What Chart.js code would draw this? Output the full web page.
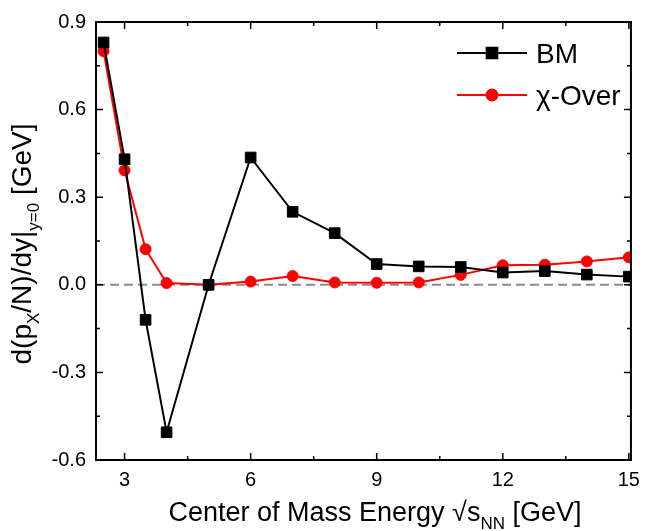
<!DOCTYPE html>
<html lang="en">
<head>
  <meta charset="UTF-8" />
  <title>Directed flow slope vs. collision energy</title>
  <script src="https://cdn.jsdelivr.net/npm/chart.js"></script>
  <style>
    body {
      margin: 0;
      background: #fff;
    }
    #wrap {
      width: 648px;
      height: 531px;
    }
  </style>
</head>
<body>
  <div id="wrap"><canvas id="flowChart" width="648" height="531"></canvas></div>

  <script>
    // sqrt(s_NN) in GeV
    const energies = [2.5, 3, 3.5, 4, 5, 6, 7, 8, 9, 10, 11, 12, 13, 14, 15];
    // d(px/N)/dy at y=0, GeV
    const bmValues = [0.83, 0.43, -0.12, -0.505, 0.0, 0.436, 0.25, 0.177, 0.071, 0.063, 0.061, 0.042, 0.047, 0.035, 0.028];
    const chiOverValues = [0.80, 0.392, 0.122, 0.006, 0.0, 0.011, 0.030, 0.008, 0.007, 0.008, 0.034, 0.067, 0.069, 0.080, 0.094];

    const xTicks = [3, 6, 9, 12, 15];
    const xMinorTicks = [4.5, 7.5, 10.5, 13.5];
    const yTicks = [-0.6, -0.3, 0.0, 0.3, 0.6, 0.9];
    const yMinorTicks = [-0.45, -0.15, 0.15, 0.45, 0.75];

    const FONT = '"Liberation Sans", Arial, sans-serif';

    function toPoints(ys) {
      return energies.map((x, i) => ({ x: x, y: ys[i] }));
    }

    // draw a run of text pieces, some of them as subscripts
    function richText(ctx, parts, size, x, y, align) {
      const subSize = Math.round(size * 0.62);
      const widths = parts.map(p => {
        ctx.font = (p.sub ? subSize : size) + 'px ' + FONT;
        return ctx.measureText(p.t).width;
      });
      const total = widths.reduce((a, b) => a + b, 0);
      let cx = align === 'center' ? x - total / 2 : x;
      parts.forEach((p, i) => {
        ctx.font = (p.sub ? subSize : size) + 'px ' + FONT;
        ctx.fillText(p.t, cx, p.sub ? y + size * 0.28 : y);
        cx += widths[i];
      });
    }

    // zero line, drawn under the series
    const zeroLine = {
      id: 'zeroLine',
      beforeDatasetsDraw(chart) {
        const { ctx, chartArea, scales } = chart;
        const y0 = scales.y.getPixelForValue(0);
        ctx.save();
        ctx.strokeStyle = '#8c8c8c';
        ctx.lineWidth = 2;
        ctx.setLineDash([9, 5]);
        ctx.beginPath();
        ctx.moveTo(chartArea.left, y0);
        ctx.lineTo(chartArea.right, y0);
        ctx.stroke();
        ctx.restore();
      }
    };

    // frame with inward ticks on all four sides, axis titles, legend
    const frame = {
      id: 'frame',
      afterDraw(chart) {
        const { ctx, chartArea: a, scales } = chart;
        ctx.save();
        ctx.strokeStyle = '#000';
        ctx.lineWidth = 2;
        ctx.strokeRect(a.left, a.top, a.right - a.left, a.bottom - a.top);

        ctx.lineWidth = 1.5;
        ctx.beginPath();
        const tickX = (vals, len) => vals.forEach(v => {
          const px = scales.x.getPixelForValue(v);
          ctx.moveTo(px, a.bottom); ctx.lineTo(px, a.bottom - len);
          ctx.moveTo(px, a.top); ctx.lineTo(px, a.top + len);
        });
        const tickY = (vals, len) => vals.forEach(v => {
          const py = scales.y.getPixelForValue(v);
          ctx.moveTo(a.left, py); ctx.lineTo(a.left + len, py);
          ctx.moveTo(a.right, py); ctx.lineTo(a.right - len, py);
        });
        tickX(xTicks, 7); tickX(xMinorTicks, 4);
        tickY(yTicks, 7); tickY(yMinorTicks, 4);
        ctx.stroke();

        ctx.fillStyle = '#000';
        ctx.textBaseline = 'alphabetic';
        ctx.textAlign = 'left';
        richText(ctx, [
          { t: 'Center of Mass Energy \u221As' },
          { t: 'NN', sub: true },
          { t: ' [GeV]' }
        ], 27, 375, 521, 'center');

        ctx.save();
        ctx.translate(31, 244);
        ctx.rotate(-Math.PI / 2);
        richText(ctx, [
          { t: 'd(p' },
          { t: 'X', sub: true },
          { t: '/N)/dy|' },
          { t: 'y=0', sub: true },
          { t: ' [GeV]' }
        ], 28, 0, 0, 'center');
        ctx.restore();

        // legend
        const rows = [
          { label: 'BM', color: '#000', style: 'rect', r: 7.5, y: 53 },
          { label: '\u03C7-Over', color: '#ff0000', style: 'circle', r: 5.5, y: 95 }
        ];
        rows.forEach(row => {
          ctx.strokeStyle = row.color;
          ctx.lineWidth = 2;
          ctx.beginPath();
          ctx.moveTo(457, row.y);
          ctx.lineTo(527, row.y);
          ctx.stroke();
          ctx.fillStyle = row.color;
          Chart.helpers.drawPoint(ctx, { pointStyle: row.style, radius: row.r, borderWidth: 1 }, 492, row.y);
          ctx.fill();
          ctx.fillStyle = '#000';
          ctx.font = '28px ' + FONT;
          ctx.fillText(row.label, 536, row.y + 10);
        });
        ctx.restore();
      }
    };

    const tickFont = { family: FONT, size: 20 };

    new Chart(document.getElementById('flowChart'), {
      type: 'line',
      data: {
        datasets: [
          {
            label: 'BM',
            data: toPoints(bmValues),
            borderColor: '#000',
            backgroundColor: '#000',
            borderWidth: 2,
            pointStyle: 'rect',
            pointRadius: 7.5,
            pointBorderWidth: 1,
            tension: 0
          },
          {
            label: '\u03C7-Over',
            data: toPoints(chiOverValues),
            borderColor: '#ff0000',
            backgroundColor: '#ff0000',
            borderWidth: 2,
            pointStyle: 'circle',
            pointRadius: 5.5,
            pointBorderWidth: 1,
            tension: 0
          }
        ]
      },
      options: {
        responsive: false,
        devicePixelRatio: 1,
        animation: false,
        layout: { padding: { top: 22, right: 9, left: 0, bottom: 0 } },
        plugins: {
          legend: { display: false },
          tooltip: { enabled: false }
        },
        scales: {
          x: {
            type: 'linear',
            min: 2.32,
            max: 15.05,
            afterBuildTicks: s => { s.ticks = xTicks.map(v => ({ value: v })); },
            afterFit: s => { s.height = 71; },
            grid: { display: false, drawTicks: false },
            border: { display: false },
            ticks: { font: tickFont, color: '#000', padding: 8, maxRotation: 0 }
          },
          y: {
            type: 'linear',
            min: -0.6,
            max: 0.9,
            afterBuildTicks: s => { s.ticks = yTicks.map(v => ({ value: v })); },
            afterFit: s => { s.width = 96; },
            grid: { display: false, drawTicks: false },
            border: { display: false },
            ticks: {
              font: tickFont,
              color: '#000',
              padding: 10,
              callback: v => v.toFixed(1)
            }
          }
        }
      },
      plugins: [zeroLine, frame]
    });
  </script>
</body>
</html>
